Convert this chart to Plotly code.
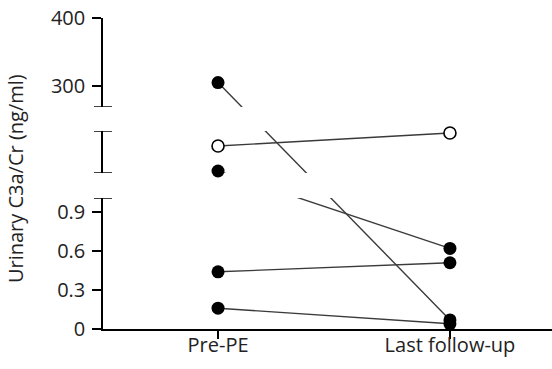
import plotly.graph_objects as go

# Paired urinary C3a/Cr measurements (ng/ml) per patient
timepoints = ["Pre-PE", "Last follow-up"]
patients = ["P1", "P2", "P3", "P4", "P5"]
pre_values = [305, 161, 13, 0.44, 0.16]
post_values = [0.07, 238, 0.62, 0.51, 0.04]
pre_segment = ["top", "mid", "mid", "low", "low"]
post_segment = ["low", "mid", "low", "low", "low"]
open_marker = [False, True, False, False, False]

top_ticks = [300, 400]
low_ticks = [0, 0.3, 0.6, 0.9]
low_ticktext = ["0", "0.3", "0.6", "0.9"]

# Broken y-axis: three stacked segments sharing one x-axis
segments = {
    "low": dict(axis="y", domain=[0.0, 0.4212], range=[0.0, 1.008]),
    "mid": dict(axis="y2", domain=[0.5016, 0.6367], range=[1.0, 250.0]),
    "top": dict(axis="y3", domain=[0.7138, 1.0], range=[269.0, 400.0]),
}
order = ["low", "mid", "top"]


def to_paper(v, seg):
    s = segments[seg]
    (d0, d1), (r0, r1) = s["domain"], s["range"]
    return d0 + (v - r0) / (r1 - r0) * (d1 - d0)


def from_paper(p, seg):
    s = segments[seg]
    (d0, d1), (r0, r1) = s["domain"], s["range"]
    return r0 + (p - d0) / (d1 - d0) * (r1 - r0)


FONT = "Open Sans"
TXT = "#222222"
LINE = "#3a3a3a"
FS = 20

fig = go.Figure()

# connecting lines, split over every segment they pass through (clipped per segment)
for i in range(len(patients)):
    p0 = to_paper(pre_values[i], pre_segment[i])
    p1 = to_paper(post_values[i], post_segment[i])
    a, b = order.index(pre_segment[i]), order.index(post_segment[i])
    for seg in order[min(a, b):max(a, b) + 1]:
        fig.add_trace(go.Scatter(
            x=[0, 1], y=[from_paper(p0, seg), from_paper(p1, seg)],
            xaxis="x", yaxis=segments[seg]["axis"], mode="lines",
            line=dict(color=LINE, width=1.4), showlegend=False, hoverinfo="skip",
        ))

# markers
for i in range(len(patients)):
    for x, v, seg in [(0, pre_values[i], pre_segment[i]), (1, post_values[i], post_segment[i])]:
        if open_marker[i]:
            mk = dict(size=12, color="white", line=dict(color="black", width=1.6))
        else:
            mk = dict(size=13, color="black", line=dict(color="black", width=0))
        fig.add_trace(go.Scatter(
            x=[x], y=[v], xaxis="x", yaxis=segments[seg]["axis"], mode="markers",
            marker=mk, cliponaxis=False, showlegend=False, name=patients[i],
        ))

axis_common = dict(
    showline=True, linecolor="black", linewidth=1.5, showgrid=False, zeroline=False,
    ticks="outside", ticklen=9, tickwidth=1.5, tickcolor="black", ticklabelstandoff=3,
    tickfont=dict(family=FONT, size=FS, color=TXT), anchor="x", fixedrange=True,
)

fig.update_layout(
    width=552, height=369,
    margin=dict(l=103, r=0, t=18, b=40),
    paper_bgcolor="white", plot_bgcolor="white",
    xaxis=dict(
        range=[-0.496, 1.44], tickvals=[0, 1], ticktext=timepoints,
        showline=True, linecolor="black", linewidth=1.5, showgrid=False, zeroline=False,
        ticks="outside", ticklen=8, tickwidth=1.5, tickcolor="black", ticklabelstandoff=-11,
        tickfont=dict(family=FONT, size=FS, color=TXT), anchor="y", fixedrange=True,
    ),
    yaxis=dict(domain=segments["low"]["domain"], range=segments["low"]["range"],
               tickvals=low_ticks, ticktext=low_ticktext, **axis_common),
    yaxis2=dict(domain=segments["mid"]["domain"], range=segments["mid"]["range"],
                tickvals=[], **axis_common),
    yaxis3=dict(domain=segments["top"]["domain"], range=segments["top"]["range"],
                tickvals=top_ticks, **axis_common),
    annotations=[dict(
        text="Urinary C3a/Cr (ng/ml)", textangle=-90, showarrow=False,
        xref="paper", yref="paper", x=(15 - 103) / 449, y=0.482,
        xanchor="center", yanchor="middle",
        font=dict(family=FONT, size=FS, color=TXT),
    )],
)

# end caps marking each break in the y-axis
caps = [("y", segments["low"]["range"][1]),
        ("y2", segments["mid"]["range"][0]), ("y2", segments["mid"]["range"][1]),
        ("y3", segments["top"]["range"][0])]
for yref, yv in caps:
    fig.add_shape(type="line", xref="paper", xsizemode="pixel", xanchor=0,
                  x0=-9, x1=9, yref=yref, y0=yv, y1=yv,
                  line=dict(color="black", width=1.5))

fig.write_html("out.html")
